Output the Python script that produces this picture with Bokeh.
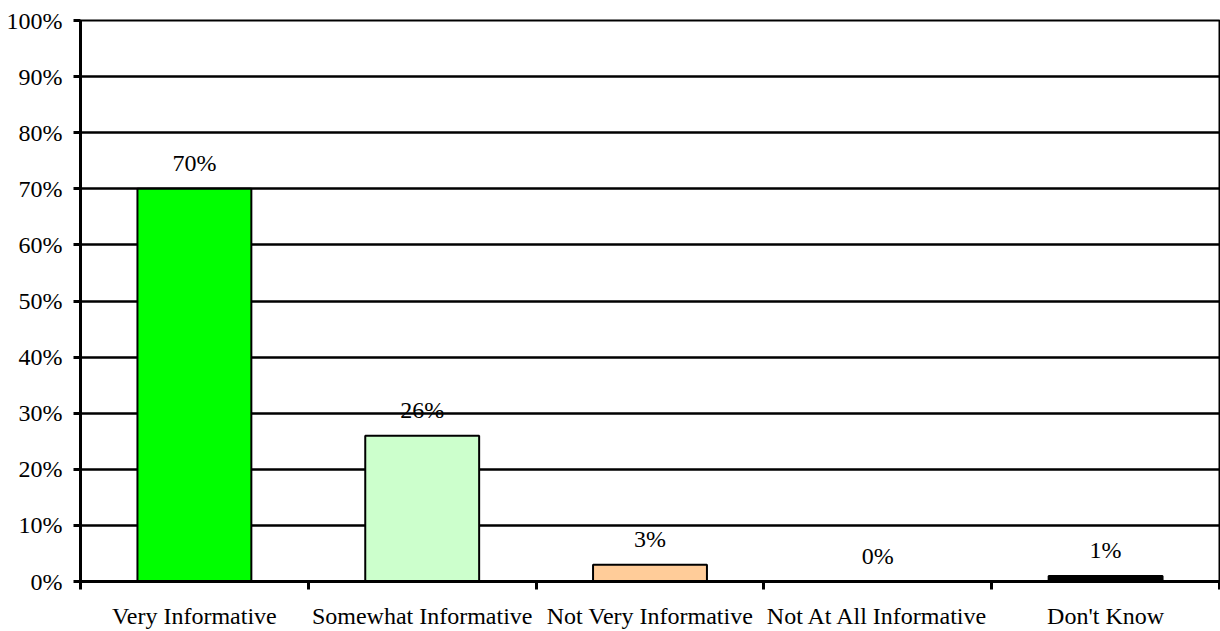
from bokeh.plotting import figure
from bokeh.models import ColumnDataSource, FixedTicker, Range1d
from bokeh.core.properties import value
from bokeh.embed import file_html
from bokeh.resources import INLINE

categories = ["Very Informative", "Somewhat Informative", "Not Very Informative",
              "Not At All Informative", "Don't Know"]
percent = [70, 26, 3, 0, 1]
colors = ["#00FF00", "#CCFFCC", "#FFCC99", "#FFFFFF", "#000000"]
y_ticks = [0, 10, 20, 30, 40, 50, 60, 70, 80, 90, 100]

FONT = "Liberation Serif"
FS = "24px"

xs = [i + 0.5 for i in range(len(categories))]
src = ColumnDataSource(dict(x=xs, top=percent, color=colors,
                            label=[f"{v}%" for v in percent]))

p = figure(width=1220, height=631, output_backend="svg", toolbar_location=None,
           x_range=Range1d(0, len(categories)), y_range=Range1d(0, 100),
           min_border_left=80, min_border_right=1, min_border_top=20, min_border_bottom=50)
p.background_fill_color = "white"
p.border_fill_color = "white"
p.outline_line_color = "black"
p.outline_line_width = 2

p.vbar(x="x", top="top", bottom=0, width=0.5, source=src,
       fill_color="color", line_color="black", line_width=2)

p.text(x="x", y="top", text="label", source=src, text_align="center",
       text_baseline="middle", y_offset=-26, text_font=value(FONT),
       text_font_size=FS, text_color="black")

# grid
p.xgrid.grid_line_color = None
p.ygrid.ticker = FixedTicker(ticks=y_ticks)
p.ygrid.grid_line_color = "black"
p.ygrid.grid_line_width = 2.5

# y axis
p.yaxis.ticker = FixedTicker(ticks=y_ticks)
p.yaxis.major_label_overrides = {t: f"{t}%" for t in y_ticks}
p.yaxis.major_label_text_font = FONT
p.yaxis.major_label_text_font_size = FS
p.yaxis.major_label_text_color = "black"
p.yaxis.axis_line_width = 3
p.yaxis.axis_line_color = "black"
p.yaxis.major_tick_line_width = 3
p.yaxis.major_tick_in = 0
p.yaxis.major_tick_out = 7
p.yaxis.minor_tick_line_color = None
p.yaxis.major_label_standoff = 11

# x axis
p.xaxis.ticker = FixedTicker(ticks=xs, minor_ticks=list(range(len(categories) + 1)))
p.xaxis.major_label_overrides = {x: c for x, c in zip(xs, categories)}
p.xaxis.major_label_text_font = FONT
p.xaxis.major_label_text_font_size = FS
p.xaxis.major_label_text_color = "black"
p.xaxis.axis_line_width = 3
p.xaxis.axis_line_color = "black"
p.xaxis.major_tick_line_color = None
p.xaxis.major_tick_out = 0
p.xaxis.major_tick_in = 0
p.xaxis.minor_tick_line_color = "black"
p.xaxis.minor_tick_line_width = 3
p.xaxis.minor_tick_in = 0
p.xaxis.minor_tick_out = 8
p.xaxis.major_label_standoff = 13

open("out.html", "w").write(file_html(p, INLINE))
